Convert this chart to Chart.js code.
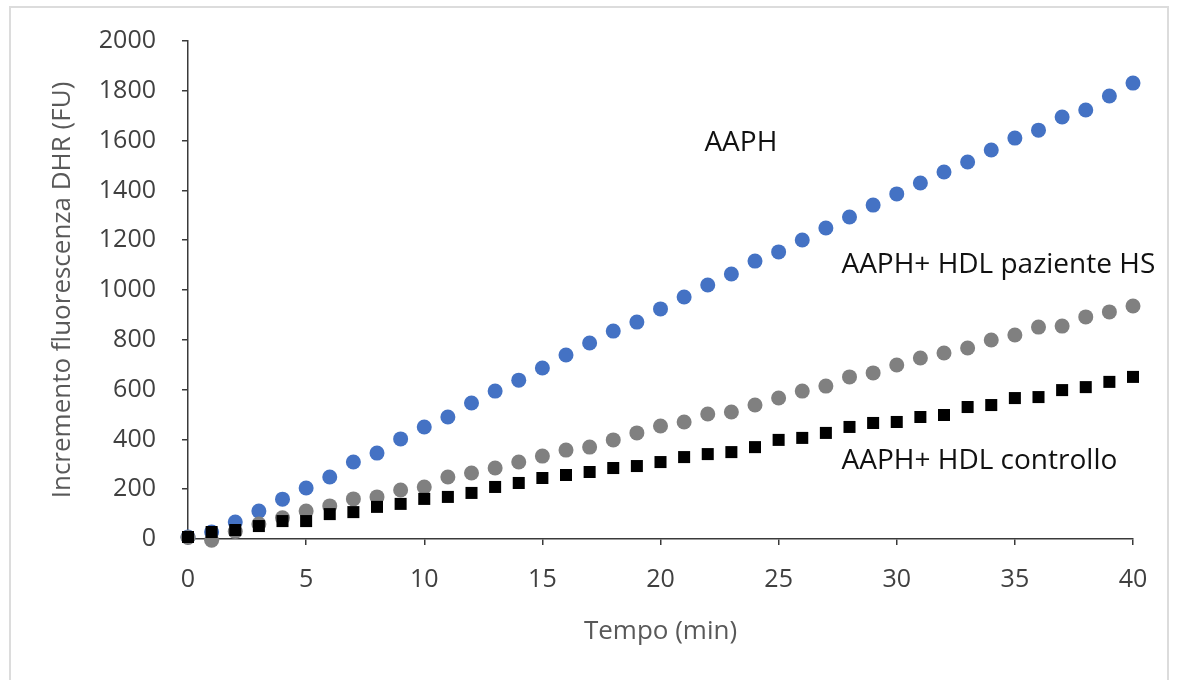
<!DOCTYPE html>
<html>
<head>
<meta charset="utf-8">
<script src="https://cdn.jsdelivr.net/npm/chart.js@4"></script>
<style>
  html, body { margin: 0; padding: 0; background: #fff; }
  #wrap { width: 1179px; height: 680px; }
</style>
</head>
<body>
<div id="wrap"><canvas id="chart" width="1179" height="680"></canvas></div>
<script>
// minutes 0..40
const minutes = [0,1,2,3,4,5,6,7,8,9,10,11,12,13,14,15,16,17,18,19,20,21,22,23,24,25,26,27,28,29,30,31,32,33,34,35,36,37,38,39,40];

const aaph = [8,28,68,112,160,205,249,309,345,402,450,490,546,594,638,687,739,787,835,871,924,972,1020,1064,1116,1153,1201,1249,1293,1341,1386,1430,1474,1514,1562,1610,1642,1695,1723,1779,1831];
const hdlPaziente = [6,-5,30,60,85,112,133,161,169,197,209,249,265,285,309,333,357,369,398,426,454,470,502,510,538,566,594,614,651,667,699,727,747,767,799,819,851,855,892,912,936];
const hdlControllo = [8,28,36,52,72,72,100,108,129,141,161,169,185,209,225,245,257,269,285,293,309,329,341,349,369,398,406,426,450,466,470,490,498,530,538,566,570,598,610,631,651];

const xTicks = [0,5,10,15,20,25,30,35,40];
const yTicks = [0,200,400,600,800,1000,1200,1400,1600,1800,2000];

// text labels placed in data units
const seriesLabels = [
    { text: 'AAPH', x: 23.4, y: 1590 },
    { text: 'AAPH+ HDL paziente HS', x: 34.3, y: 1100 },
    { text: 'AAPH+ HDL controllo', x: 33.5, y: 313 }
];

function toPoints(values) {
    return minutes.map((m, i) => ({ x: m, y: values[i] }));
}

const axisColor = '#3a3a3a';
const tickColor = '#404040';
const titleColor = '#595959';

const frame = {
    id: 'frame',
    beforeDraw(chart) {
        const ctx = chart.ctx;
        ctx.save();
        ctx.fillStyle = '#fff';
        ctx.fillRect(0, 0, chart.width, chart.height);
        ctx.strokeStyle = '#dcdcdc';
        ctx.lineWidth = 2;
        ctx.strokeRect(10, 7, 1158, 690);
        ctx.restore();
    }
};

const textLabels = {
    id: 'textLabels',
    afterDatasetsDraw(chart) {
        const ctx = chart.ctx;
        const xs = chart.scales.x;
        const ys = chart.scales.y;
        ctx.save();
        ctx.font = '28px "Open Sans"';
        ctx.fillStyle = '#111';
        ctx.textAlign = 'center';
        ctx.textBaseline = 'middle';
        seriesLabels.forEach(l => {
            ctx.fillText(l.text, xs.getPixelForValue(l.x), ys.getPixelForValue(l.y));
        });
        ctx.restore();
    }
};

new Chart(document.getElementById('chart'), {
    type: 'scatter',
    data: {
        datasets: [
            {
                label: 'AAPH+ HDL controllo',
                data: toPoints(hdlControllo),
                pointStyle: 'rect',
                pointRadius: 8.5,
                backgroundColor: '#000',
                borderColor: '#000',
                borderWidth: 0,
                clip: false
            },
            {
                label: 'AAPH+ HDL paziente HS',
                data: toPoints(hdlPaziente),
                pointStyle: 'circle',
                pointRadius: 7.5,
                backgroundColor: '#808080',
                borderColor: '#808080',
                borderWidth: 0,
                clip: false
            },
            {
                label: 'AAPH',
                data: toPoints(aaph),
                pointStyle: 'circle',
                pointRadius: 7.5,
                backgroundColor: '#4472C4',
                borderColor: '#4472C4',
                borderWidth: 0,
                clip: false
            }
        ]
    },
    options: {
        responsive: false,
        animation: false,
        layout: { padding: { left: 0, right: 46, top: 41, bottom: 0 } },
        plugins: {
            legend: { display: false },
            tooltip: { enabled: false }
        },
        scales: {
            x: {
                type: 'linear',
                min: 0,
                max: 40,
                afterFit(scale) { scale.height = 141; },
                afterBuildTicks(scale) { scale.ticks = xTicks.map(v => ({ value: v })); },
                grid: { drawOnChartArea: false, tickLength: 6, color: axisColor, lineWidth: 1.5 },
                border: { display: true, color: axisColor, width: 1.5 },
                ticks: {
                    padding: 20,
                    color: tickColor,
                    font: { family: 'Open Sans', size: 25 },
                    callback: v => String(v)
                },
                title: {
                    display: true,
                    text: 'Tempo (min)',
                    color: titleColor,
                    font: { family: 'Open Sans', size: 26 },
                    padding: { top: 0, bottom: 33 }
                }
            },
            y: {
                type: 'linear',
                min: 0,
                max: 2000,
                afterFit(scale) { scale.width = 188; },
                afterBuildTicks(scale) { scale.ticks = yTicks.map(v => ({ value: v })); },
                grid: { drawOnChartArea: false, tickLength: 6, color: axisColor, lineWidth: 1.5 },
                border: { display: true, color: axisColor, width: 1.5 },
                ticks: {
                    padding: 26,
                    color: tickColor,
                    font: { family: 'Open Sans', size: 25 },
                    callback: v => String(v)
                },
                title: {
                    display: true,
                    text: 'Incremento fluorescenza DHR (FU)',
                    color: titleColor,
                    font: { family: 'Open Sans', size: 26 },
                    padding: { top: 47, bottom: 0 }
                }
            }
        }
    },
    plugins: [frame, textLabels]
});
</script>
</body>
</html>
